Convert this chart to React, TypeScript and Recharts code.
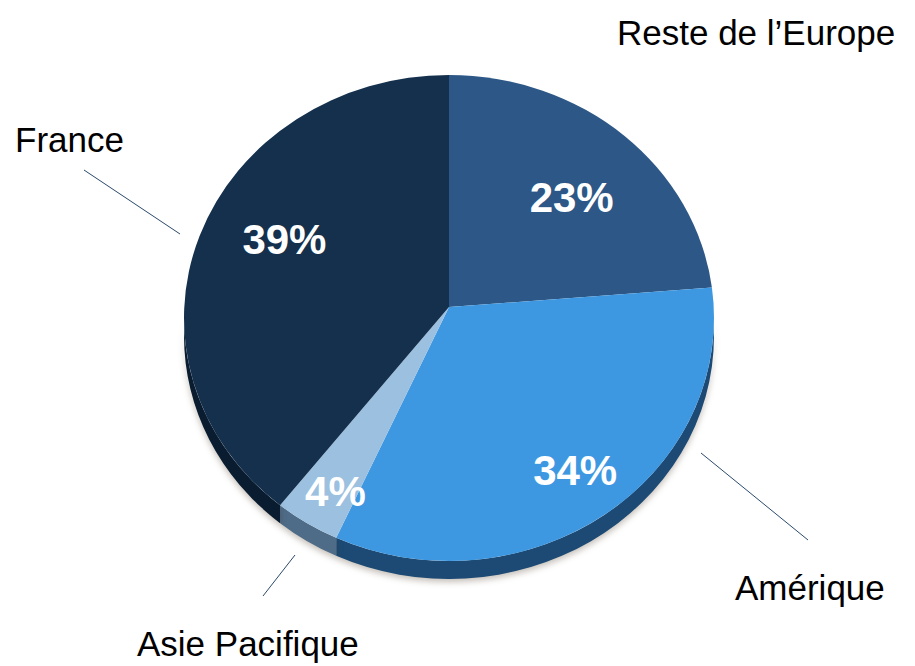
import { PieChart, Pie } from 'recharts';

const CATEGORIES = ['Reste de l\u2019Europe', 'Amérique', 'Asie Pacifique', 'France'];
const SHARES = [23, 34, 4, 39];
const TOP_COLORS = ['#2C5786', '#3E98E1', '#9CC0DF', '#15304D'];
const SIDE_COLORS = ['#1B3A5C', '#1C4A74', '#4E6B87', '#0A1C2F'];

const data = CATEGORIES.map((name, i) => ({ name, value: SHARES[i], fill: TOP_COLORS[i] }));

// look of the tilted pie
const TILT = 243 / 265;
const APEX_SHIFT = -11;
const DEPTH = 18;
const RAD = Math.PI / 180;

// label placement (radius fractions x/y for the % labels, fixed spots for the names)
const PCT_RADIUS = [
  [0.7, 0.6],
  [0.81, 0.83],
  [0.8, 0.9],
  [0.66, 0.82],
];
const NAME_LAYOUT = [
  { x: 617, y: 45, line: null },
  { x: 735, y: 600, line: [701, 453, 808, 540] },
  { x: 137, y: 656, line: [295, 555, 263, 596] },
  { x: 15, y: 152, line: [84, 170, 180, 234] },
];

const FONT = '"Liberation Sans", Arial, sans-serif';

function Slice3D(props: any) {
  const { cx, cy, outerRadius, startAngle, endAngle, index } = props;
  const rx = outerRadius;
  const ry = outerRadius * TILT;
  const ay = cy + APEX_SHIFT;
  const pt = (a: number, dy = 0) =>
    `${cx + rx * Math.cos(a * RAD)},${cy - ry * Math.sin(a * RAD) + dy}`;

  const lo = Math.min(startAngle, endAngle);
  const hi = Math.max(startAngle, endAngle);
  const large = hi - lo > 180 ? 1 : 0;
  const sweep = startAngle > endAngle ? 1 : 0;
  const top = `M${cx},${ay} L${pt(startAngle)} A${rx},${ry} 0 ${large} ${sweep} ${pt(endAngle)} Z`;

  // front wall only where the arc is on the lower half
  const sides: string[] = [];
  for (let k = -1; k <= 1; k++) {
    const a0 = Math.max(lo, k * 360 - 180);
    const a1 = Math.min(hi, k * 360);
    if (a1 > a0) {
      sides.push(
        `M${pt(a1)} A${rx},${ry} 0 0 1 ${pt(a0)} L${pt(a0, DEPTH)} A${rx},${ry} 0 0 0 ${pt(a1, DEPTH)} Z`
      );
    }
  }

  return (
    <g>
      {sides.map((d, i) => (
        <path
          key={i}
          d={d}
          fill={SIDE_COLORS[index]}
          style={{ filter: 'drop-shadow(0px 3px 3px rgba(60,40,20,0.3))' }}
        />
      ))}
      <path d={top} fill={TOP_COLORS[index]} />
    </g>
  );
}

const renderLabel = (props: any) => {
  const { cx, cy, midAngle, outerRadius, index, value, name } = props;
  const rx = outerRadius;
  const ry = outerRadius * TILT;
  const [fx, fy] = PCT_RADIUS[index];
  const x = cx + rx * fx * Math.cos(midAngle * RAD);
  const y = cy + APEX_SHIFT - ry * fy * Math.sin(midAngle * RAD);
  const nl = NAME_LAYOUT[index];
  return (
    <g key={`lbl-${index}`}>
      <text
        x={x}
        y={y}
        textAnchor="middle"
        dominantBaseline="central"
        fill="#FFFFFF"
        fontSize={42}
        fontWeight="bold"
        fontFamily={FONT}
      >
        {`${value}%`}
      </text>
      {nl.line && (
        <line x1={nl.line[0]} y1={nl.line[1]} x2={nl.line[2]} y2={nl.line[3]} stroke="#2A4A6C" strokeWidth={1} />
      )}
      <text x={nl.x} y={nl.y} textAnchor="start" fill="#000000" fontSize={35} fontFamily={FONT}>
        {name}
      </text>
    </g>
  );
};

export default function App() {
  return (
    <div style={{ position: 'absolute', left: 0, top: 0, width: 915, height: 666, background: '#FFFFFF' }}>
      <PieChart width={915} height={666} margin={{ top: 0, right: 0, bottom: 0, left: 0 }}>
        <Pie
          data={data}
          dataKey="value"
          nameKey="name"
          cx={449}
          cy={318}
          outerRadius={265}
          startAngle={90}
          endAngle={-270}
          stroke="none"
          shape={Slice3D}
          label={renderLabel}
          labelLine={false}
          isAnimationActive={false}
        />
      </PieChart>
    </div>
  );
}
